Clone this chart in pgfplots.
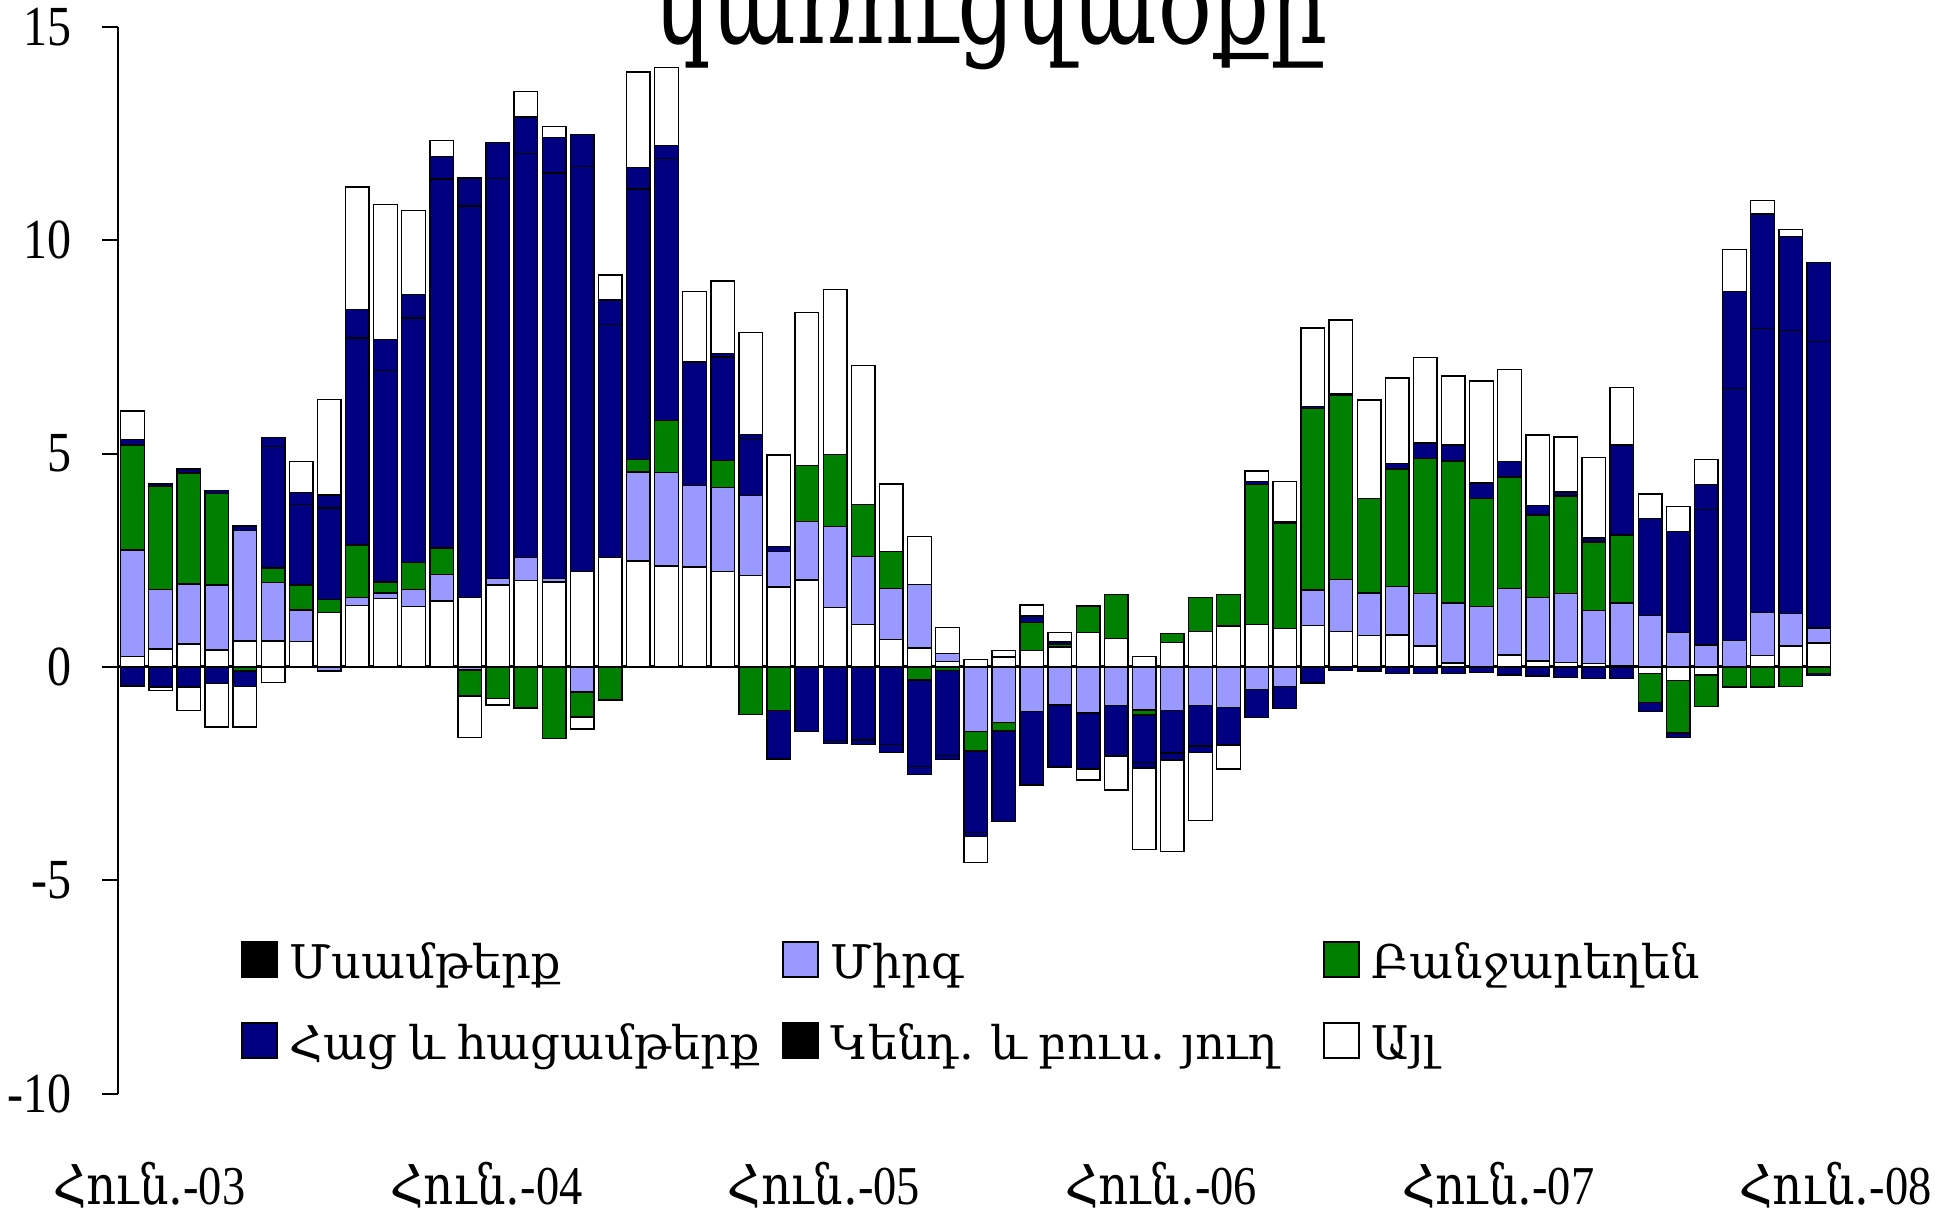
\documentclass[border=0pt]{standalone}
\usepackage{fontspec}
\setmainfont{Liberation Serif}
\newfontfamily\arm[WordSpace=0.8]{DejaVu Serif}
\usepackage{graphicx}
\usepackage{pgfplots}
\usepackage{pgfplotstable}
\pgfplotsset{compat=1.18}
\definecolor{navy}{RGB}{0,0,128}
\definecolor{dgreen}{RGB}{0,128,0}
\definecolor{lav}{RGB}{153,153,255}
\newcommand\vs[1]{\scalebox{1}[1.18]{#1}}

% positive parts: M=Msamterq, F=Mirg, V=Banjarexen, B=Hac, O=Kend. yux, A=Ayl
\pgfplotstableread{
x M F V B O A
0 0.24 2.50 2.46 0.13 0 0.67
1 0.42 1.39 2.42 0.06 0 0
2 0.54 1.40 2.60 0.10 0 0
3 0.40 1.52 2.14 0.08 0 0
4 0.61 2.59 0 0.10 0 0
5 0.61 1.37 0.34 2.85 0.21 0
6 0.59 0.74 0.59 1.89 0.28 0.72
7 1.28 0 0.30 2.14 0.31 2.24
8 1.44 0.19 1.23 4.85 0.67 2.87
9 1.60 0.13 0.26 4.95 0.73 3.16
10 1.42 0.40 0.63 5.73 0.55 1.96
11 1.54 0.63 0.62 8.64 0.53 0.38
12 1.63 0 0 9.17 0.66 0
13 1.92 0.15 0 9.37 0.85 0
14 2.03 0.54 0 9.46 0.86 0.60
15 1.99 0.08 0 9.50 0.84 0.25
16 2.24 0 0 9.48 0.75 0
17 2.57 0 0 5.45 0.58 0.58
18 2.48 2.09 0.29 6.34 0.50 2.24
19 2.36 2.19 1.22 6.15 0.30 1.83
20 2.34 1.91 0 2.89 0.02 1.64
21 2.24 1.96 0.64 2.42 0.09 1.69
22 2.14 1.87 0 1.34 0.10 2.38
23 1.875 0.83 0 0.12 0 2.14
24 2.04 1.37 1.31 0 0 3.58
25 1.39 1.90 1.69 0 0 3.87
26 0.99 1.59 1.23 0 0 3.25
27 0.64 1.20 0.87 0 0 1.58
28 0.44 1.49 0 0 0 1.13
29 0.13 0.18 0 0 0 0.61
30 0.17 0 0 0 0 0
31 0.22 0 0 0.03 0 0.13
32 0.38 0 0.66 0.15 0 0.26
33 0.47 0 0.05 0.06 0 0.22
34 0.80 0 0.63 0 0 0
35 0.67 0 1.02 0 0 0
36 0.24 0 0 0 0 0
37 0.57 0 0.21 0 0 0
38 0.83 0 0.80 0 0 0
39 0.96 0 0.74 0 0 0
40 1.00 0 3.28 0.06 0 0.25
41 0.90 0 2.47 0.04 0 0.94
42 0.97 0.83 4.25 0.05 0 1.84
43 0.83 1.22 4.32 0.04 0 1.72
44 0.73 1.00 2.22 0 0 2.30
45 0.75 1.13 2.76 0.13 0 2.00
46 0.49 1.23 3.17 0.36 0 2.00
47 0.09 1.41 3.32 0.38 0 1.62
48 0 1.41 2.53 0.37 0 2.39
49 0.28 1.55 2.62 0.36 0 2.16
50 0.14 1.49 1.93 0.22 0 1.65
51 0.10 1.62 2.28 0.10 0 1.29
52 0.08 1.24 1.61 0.09 0 1.88
53 0.02 1.48 1.59 2.11 0 1.34
54 0 1.20 0 2.28 0 0.57
55 0 0.81 0 2.36 0 0.59
56 0 0.51 0 3.18 0.58 0.59
57 0 0.62 0 5.90 2.28 0.98
58 0.26 1.02 0 6.65 2.68 0.32
59 0.49 0.76 0 6.63 2.21 0.16
60 0.56 0.35 0 6.72 1.85 0
}\pos

% negative parts
\pgfplotstableread{
x M F V B O A
0 0 0 0 -0.45 0 0
1 0 0 0 -0.47 0 -0.09
2 0 0 0 -0.47 0 -0.55
3 0 0 0 -0.39 0 -1.02
4 0 0 -0.10 -0.36 0 -0.95
5 0 0 0 0 0 -0.36
6 0 0 0 0 0 0
7 0 -0.10 0 0 0 0
8 0 0 0 0 0 0
9 0 0 0 0 0 0
10 0 0 0 0 0 0
11 0 0 0 0 0 0
12 0 -0.07 -0.61 0 0 -0.97
13 0 0 -0.74 0 0 -0.15
14 0 0 -0.96 0 0 0
15 0 0 -1.68 0 0 0
16 0 -0.59 -0.58 0 0 -0.29
17 0 0 -0.78 0 0 0
18 0 0 0 0 0 0
19 0 0 0 0 0 0
20 0 0 0 0 0 0
21 0 0 0 0 0 0
22 0 0 -1.11 0 0 0
23 0 0 -1.02 -1.14 0 0
24 0 0 0 -1.51 0 0
25 0 0 0 -1.72 -0.08 0
26 0 0 0 -1.71 -0.11 0
27 0 0 0 -1.82 -0.18 0
28 0 0 -0.31 -2.02 -0.19 0
29 0 0 -0.09 -1.98 -0.10 0
30 0 -1.52 -0.45 -1.91 -0.09 -0.61
31 0 -1.30 -0.20 -2.13 0 0
32 0 -1.04 0 -1.73 0 0
33 0 -0.89 0 -1.46 0 0
34 0 -1.08 0 -1.31 0 -0.26
35 0 -0.90 0 -1.19 0 -0.80
36 0 -1.01 -0.12 -1.11 -0.13 -1.91
37 0 -1.02 0 -1.00 -0.16 -2.14
38 0 -0.90 0 -0.95 -0.15 -1.60
39 0 -0.95 0 -0.88 0 -0.56
40 0 -0.53 0 -0.65 0 0
41 0 -0.46 0 -0.51 0 0
42 0 0 0 -0.38 0 0
43 0 0 0 -0.08 0 0
44 0 0 0 -0.10 0 0
45 0 0 0 -0.15 0 0
46 0 0 0 -0.16 0 0
47 0 0 0 -0.15 0 0
48 0 0 0 -0.13 0 0
49 0 0 0 -0.19 0 0
50 0 0 0 -0.21 0 0
51 0 0 0 -0.25 0 0
52 0 0 0 -0.27 0 0
53 0 0 0 -0.27 0 0
54 -0.16 0 -0.68 -0.20 0 0
55 -0.32 0 -1.23 -0.10 0 0
56 -0.19 0 -0.74 0 0 0
57 0 0 -0.47 0 0 0
58 0 0 -0.47 0 0 0
59 0 0 -0.46 0 0 0
60 0 0 -0.16 0 -0.04 0
}\negp

\pgfplotsset{
  base/.style={
    scale only axis, width=432.2bp, height=266.7bp,
    xmin=-0.516, xmax=61, ymin=-10, ymax=15,
    ybar stacked, bar width=0.84,
    every axis plot/.append style={line width=0.35bp, draw=black},
  },
  sM/.style={fill=white},
  sF/.style={fill=lav},
  sV/.style={fill=dgreen},
  sB/.style={fill=navy},
  sO/.style={fill=navy},
  sA/.style={fill=white},
}

\begin{document}
\begin{tikzpicture}
% negative stacks
\begin{axis}[base, hide axis]
\addplot[sM] table[x=x,y=M]{\negp};
\addplot[sF] table[x=x,y=F]{\negp};
\addplot[sV] table[x=x,y=V]{\negp};
\addplot[sB] table[x=x,y=B]{\negp};
\addplot[sO] table[x=x,y=O]{\negp};
\addplot[sA] table[x=x,y=A]{\negp};
\end{axis}
% positive stacks, axes, legend
\begin{axis}[base,
  axis y line*=left, axis x line*=bottom,
  x axis line style={draw=none}, xtick style={draw=none},
  y axis line style={line width=0.5bp},
  ytick style={line width=0.5bp, draw=black},
  tick align=outside, major tick length=4bp,
  ytick={-10,-5,0,5,10,15},
  yticklabels={\vs{-10},\vs{-5},\vs{0},\vs{5},\vs{10},\vs{15}},
  yticklabel style={anchor=east, inner sep=0pt, xshift=-7.5bp, font=\fontsize{12bp}{14bp}\selectfont},
  xtick={0.6,12.6,24.6,36.6,48.6,60.6},
  xticklabels={\vs{{\arm Հուն.}-03},\vs{{\arm Հուն.}-04},\vs{{\arm Հուն.}-05},\vs{{\arm Հուն.}-06},\vs{{\arm Հուն.}-07},\vs{{\arm Հուն.}-08}},
  xticklabel style={anchor=base, inner sep=0pt, yshift=-23.8bp, font=\fontsize{11.6bp}{14bp}\selectfont},
  legend columns=3,
  legend cell align=left,
  legend style={at={(0.07097,0.1436)}, anchor=north west, draw=none, fill=none,
    inner sep=0pt, row sep=8bp,
    nodes={inner sep=0pt, text height=9bp, text depth=3bp, font=\fontsize{11.6bp}{14bp}\selectfont},
    /tikz/every odd column/.append style={column sep=3bp},
    /tikz/every even column/.append style={column sep=5.15bp}},
]
\addplot[sM, forget plot] table[x=x,y=M]{\pos};
\addplot[sF, forget plot] table[x=x,y=F]{\pos};
\addplot[sV, forget plot] table[x=x,y=V]{\pos};
\addplot[sB, forget plot] table[x=x,y=B]{\pos};
\addplot[sO, forget plot] table[x=x,y=O]{\pos};
\addplot[sA, forget plot] table[x=x,y=A]{\pos};
\draw[black, line width=0.75bp] (axis cs:-0.516,0) -- (axis cs:60.45,0);
\addlegendimage{legend image code/.code={\draw[fill=black,draw=black,line width=0.35bp] (0bp,-2.625bp) rectangle (8.75bp,6.125bp);}}
\addlegendentry{\makebox[118bp][l]{\arm Մսամթերք}}
\addlegendimage{legend image code/.code={\draw[fill=lav,draw=black,line width=0.35bp] (0bp,-2.625bp) rectangle (8.75bp,6.125bp);}}
\addlegendentry{\makebox[118bp][l]{\arm Միրգ}}
\addlegendimage{legend image code/.code={\draw[fill=dgreen,draw=black,line width=0.35bp] (0bp,-2.625bp) rectangle (8.75bp,6.125bp);}}
\addlegendentry{\makebox[118bp][l]{\arm Բանջարեղեն}}
\addlegendimage{legend image code/.code={\draw[fill=navy,draw=black,line width=0.35bp] (0bp,-2.625bp) rectangle (8.75bp,6.125bp);}}
\addlegendentry{\makebox[118bp][l]{\arm Հաց և հացամթերք}}
\addlegendimage{legend image code/.code={\draw[fill=black,draw=black,line width=0.35bp] (0bp,-2.625bp) rectangle (8.75bp,6.125bp);}}
\addlegendentry{\makebox[118bp][l]{\arm Կենդ. և բուս. յուղ}}
\addlegendimage{legend image code/.code={\draw[fill=white,draw=black,line width=0.35bp] (0bp,-2.625bp) rectangle (8.75bp,6.125bp);}}
\addlegendentry{\makebox[118bp][l]{\arm Այլ}}
\end{axis}
\node[anchor=base, inner sep=0pt] at (218.25bp,262.5bp) {\scalebox{1}[1.32]{\arm\fontsize{22.5bp}{26bp}\selectfont կառուցվածքը}};
\pgfresetboundingbox
\useasboundingbox (-29.5bp,-28.6bp) rectangle (454.25bp,273.4bp);
\end{tikzpicture}
\end{document}
